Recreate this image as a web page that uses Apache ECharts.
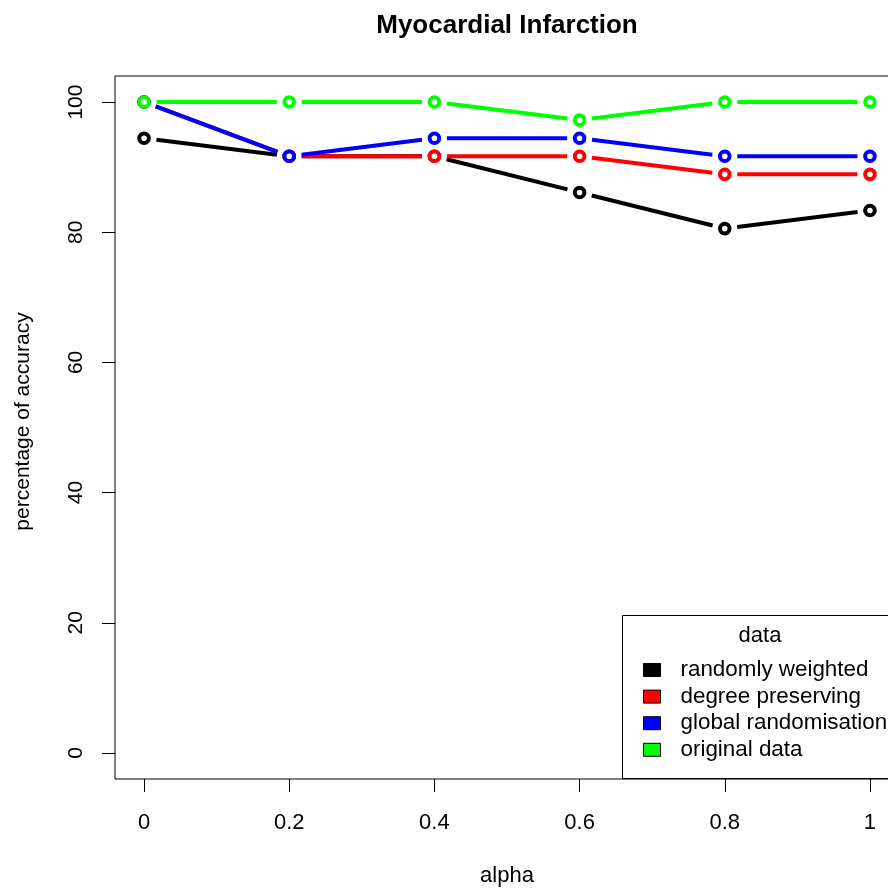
<!DOCTYPE html>
<html>
<head>
<meta charset="utf-8">
<script src="https://cdn.jsdelivr.net/npm/echarts@6/dist/echarts.min.js"></script>
<style>
  html, body { margin: 0; padding: 0; background: #fff; }
  #chart { width: 888px; height: 888px; }
</style>
</head>
<body>
<div id="chart"></div>
<script>
// Classification accuracy (%) against alpha for each network variant
const alphas = [0, 0.2, 0.4, 0.6, 0.8, 1];
const randomlyWeighted = [94.44, 91.67, 91.67, 86.11, 80.56, 83.33];
const degreePreserving = [100, 91.67, 91.67, 91.67, 88.89, 88.89];
const globalRandomisation = [100, 91.67, 94.44, 94.44, 91.67, 91.67];
const originalData = [100, 100, 100, 97.22, 100, 100];

const seriesNames = ['randomly weighted', 'degree preserving', 'global randomisation', 'original data'];
const seriesValues = [randomlyWeighted, degreePreserving, globalRandomisation, originalData];
const seriesColors = ['#000000', '#ff0000', '#0000ff', '#00ff00'];

const xTicks = [0, 0.2, 0.4, 0.6, 0.8, 1];
const yTicks = [0, 20, 40, 60, 80, 100];

const FONT = '"Liberation Sans", Arial, Helvetica, sans-serif';
const LINE_W = 4;
const PT_R = 4.8;
const GAP = 12.5;

// Points joined by segments that stop short of each open circle
function makeRender(vals, color) {
  return function (params, api) {
    const i = params.dataIndex;
    const p = api.coord([alphas[i], vals[i]]);
    const children = [];
    if (i > 0) {
      const q = api.coord([alphas[i - 1], vals[i - 1]]);
      const dx = p[0] - q[0], dy = p[1] - q[1];
      const len = Math.sqrt(dx * dx + dy * dy);
      if (len > 2 * GAP) {
        const ux = dx / len, uy = dy / len;
        children.push({
          type: 'line',
          shape: { x1: q[0] + ux * GAP, y1: q[1] + uy * GAP, x2: p[0] - ux * GAP, y2: p[1] - uy * GAP },
          style: { stroke: color, lineWidth: LINE_W, lineCap: 'butt' }
        });
      }
    }
    children.push({
      type: 'circle',
      shape: { cx: p[0], cy: p[1], r: PT_R },
      style: { fill: '#ffffff', stroke: color, lineWidth: LINE_W }
    });
    return { type: 'group', children: children };
  };
}

const series = seriesNames.map((name, k) => ({
  name: name,
  type: 'custom',
  coordinateSystem: 'cartesian2d',
  itemStyle: { color: seriesColors[k] },
  data: alphas.map((a, i) => [a, seriesValues[k][i]]),
  encode: { x: 0, y: 1 },
  renderItem: makeRender(seriesValues[k], seriesColors[k]),
  z: 3 + k,
  silent: true
}));

const chart = echarts.init(document.getElementById('chart'), null, { renderer: 'canvas' });
chart.setOption({
  backgroundColor: '#ffffff',
  animation: false,
  title: {
    text: 'Myocardial Infarction',
    left: 502, top: 8, textAlign: 'center',
    textStyle: { fontFamily: FONT, fontSize: 26, fontWeight: 'bold', color: '#000' }
  },
  grid: {
    left: 115, top: 76, width: 784, height: 703,
    containLabel: false,
    outerBoundsMode: 'none',
    show: true, borderColor: '#000', borderWidth: 1, backgroundColor: 'transparent'
  },
  xAxis: {
    type: 'value', min: -0.04, max: 1.04,
    name: 'alpha', nameLocation: 'middle', nameGap: 86,
    nameTextStyle: { fontFamily: FONT, fontSize: 22, color: '#000' },
    axisLine: { show: false, onZero: false },
    splitLine: { show: false },
    axisTick: { show: true, customValues: xTicks, length: 13, lineStyle: { color: '#000', width: 1 } },
    axisLabel: {
      customValues: xTicks, margin: 33,
      fontFamily: FONT, fontSize: 22, color: '#000',
      formatter: v => String(v)
    }
  },
  yAxis: {
    type: 'value', min: -4, max: 104,
    name: 'percentage of accuracy', nameLocation: 'middle', nameGap: 81, nameRotate: 90,
    nameTextStyle: { fontFamily: FONT, fontSize: 21, color: '#000', padding: [0, 0, 0, 12] },
    axisLine: { show: false, onZero: false },
    splitLine: { show: false },
    axisTick: { show: true, customValues: yTicks, length: 13, lineStyle: { color: '#000', width: 1 } },
    axisLabel: {
      customValues: yTicks, margin: 28, rotate: 90,
      fontFamily: FONT, fontSize: 21, color: '#000',
      formatter: v => String(v)
    }
  },
  legend: {
    data: seriesNames,
    orient: 'vertical',
    left: 643, top: 659,
    padding: 0,
    itemGap: 4.6,
    itemWidth: 17, itemHeight: 13,
    icon: 'rect',
    itemStyle: { borderColor: '#000', borderWidth: 1 },
    textStyle: { fontFamily: FONT, fontSize: 22.4, color: '#000', padding: [0, 0, 0, 15] },
    selectedMode: false,
    z: 10
  },
  graphic: [
    {
      type: 'rect', z: 5,
      shape: { x: 622.5, y: 615.5, width: 290, height: 163 },
      style: { fill: '#ffffff', stroke: '#000', lineWidth: 1 }
    },
    {
      type: 'text', z: 6,
      x: 760, y: 636,
      style: { text: 'data', fontFamily: FONT, fontSize: 22, fill: '#000', align: 'center', verticalAlign: 'middle' }
    }
  ],
  series: series
});
</script>
</body>
</html>
